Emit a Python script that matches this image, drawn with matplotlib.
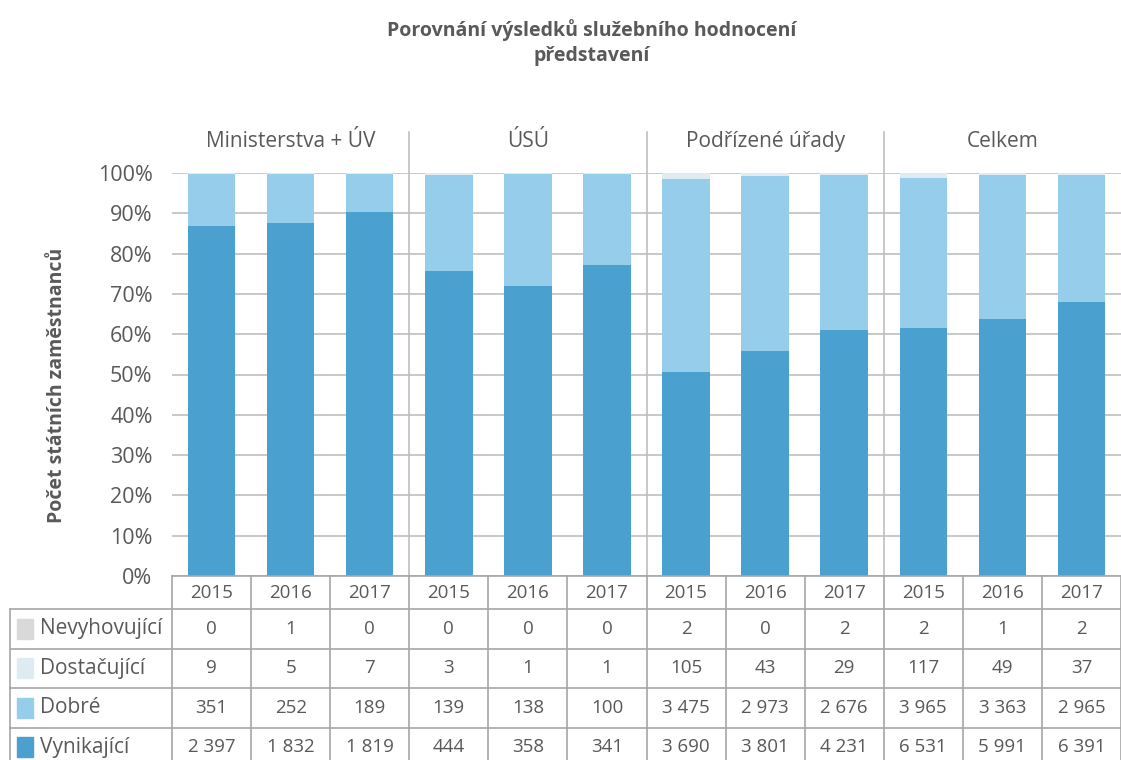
import numpy as np
import matplotlib
matplotlib.use("Agg")
import matplotlib.pyplot as plt

plt.rcParams["font.family"] = ["Open Sans", "DejaVu Sans"]

groups = ["Ministerstva + ÚV", "ÚSÚ", "Podřízené úřady", "Celkem"]
years = ["2015", "2016", "2017"]

series_names = ["Nevyhovující", "Dostačující", "Dobré", "Vynikající"]
nevyhovujici = [0, 1, 0, 0, 0, 0, 2, 0, 2, 2, 1, 2]
dostacujici = [9, 5, 7, 3, 1, 1, 105, 43, 29, 117, 49, 37]
dobre = [351, 252, 189, 139, 138, 100, 3475, 2973, 2676, 3965, 3363, 2965]
vynikajici = [2397, 1832, 1819, 444, 358, 341, 3690, 3801, 4231, 6531, 5991, 6391]

colors = {
    "Nevyhovující": "#d9d9d9",
    "Dostačující": "#deecf2",
    "Dobré": "#96cdeb",
    "Vynikající": "#4aa0cf",
}
text_color = "#595959"
grid_color = "#bfbfbf"
table_line = "#a6a6a6"

values = {
    "Nevyhovující": np.array(nevyhovujici, dtype=float),
    "Dostačující": np.array(dostacujici, dtype=float),
    "Dobré": np.array(dobre, dtype=float),
    "Vynikající": np.array(vynikajici, dtype=float),
}
totals = sum(values.values())

n = len(groups) * len(years)
x = np.arange(n)

fig = plt.figure(figsize=(11.21, 7.60), dpi=100)

W, H = 1121.0, 760.0
plot_left, plot_right = 172, 1121
plot_top, plot_bottom = 173, 576

ax = fig.add_axes([plot_left / W, 1 - plot_bottom / H,
                   (plot_right - plot_left) / W, (plot_bottom - plot_top) / H])

# stacked 100% bars, bottom to top
bottom = np.zeros(n)
for name in ["Vynikající", "Dobré", "Dostačující", "Nevyhovující"]:
    share = values[name] / totals
    ax.bar(x, share, 0.6, bottom=bottom, color=colors[name], zorder=3)
    bottom += share

ax.set_xlim(-0.5, n - 0.5)
ax.set_ylim(0, 1)
ax.set_yticks(np.arange(0, 1.01, 0.1))
ax.set_yticklabels([f"{int(round(v * 100))}%" for v in np.arange(0, 1.01, 0.1)])
ax.tick_params(axis="y", length=0, pad=14, labelsize=15.5, labelcolor=text_color)
ax.set_xticks([])
for s in ax.spines.values():
    s.set_visible(False)
ax.yaxis.grid(True, color=grid_color, linewidth=1.2, zorder=0)

# group separators and labels
for g in range(1, len(groups)):
    ax.plot([g * 3 - 0.5, g * 3 - 0.5], [0, 1.102], color=grid_color,
            linewidth=1.2, clip_on=False, zorder=1)
for g, name in enumerate(groups):
    ax.text(g * 3 + 1, 1.077, name, ha="center", va="center", fontsize=15,
            color=text_color, transform=ax.transData, clip_on=False)

ax.set_ylabel("Počet státních zaměstnanců", fontsize=14, fontweight="bold",
              color=text_color)
ax.yaxis.set_label_coords(-(plot_left - 67) / (plot_right - plot_left), 0.474)

fig.text(592 / W, 1 - 30 / H, "Porovnání výsledků služebního hodnocení",
         ha="center", va="center", fontsize=14, fontweight="bold", color=text_color)
fig.text(592 / W, 1 - 56 / H, "představení",
         ha="center", va="center", fontsize=14, fontweight="bold", color=text_color)

# data table below the chart
label_left = 10
col_w = (plot_right - plot_left) / n
xmin = -0.5 - (plot_left - label_left) / col_w
header_h = 33 / 39.5
tab_h_px = 33 + 4 * 39.5
tax = fig.add_axes([label_left / W, 1 - (plot_bottom + tab_h_px) / H,
                    (plot_right - label_left) / W, tab_h_px / H])
tax.set_xlim(xmin, n - 0.5)
tax.set_ylim(header_h + 4, 0)
tax.axis("off")

# horizontal lines
tax.plot([-0.5, n - 0.5], [0, 0], color=table_line, linewidth=1.2, clip_on=False)
for r in range(4):
    yy = header_h + r
    tax.plot([xmin, n - 0.5], [yy, yy], color=table_line, linewidth=1.2, clip_on=False)
# vertical lines
for c in range(n + 1):
    tax.plot([c - 0.5, c - 0.5], [0, header_h + 4], color=table_line,
             linewidth=1.2, clip_on=False)
tax.plot([xmin, xmin], [header_h, header_h + 4], color=table_line,
         linewidth=1.2, clip_on=False)

# header row
for i in range(n):
    tax.text(i, header_h / 2, years[i % 3], ha="center", va="center",
             fontsize=13.5, color=text_color)

# data rows
sq_w = 0.2
for r, name in enumerate(series_names):
    yc = header_h + r + 0.5
    tax.add_patch(plt.Rectangle((xmin + 0.09, yc - 0.25), sq_w, 0.5,
                                color=colors[name], clip_on=False))
    tax.text(xmin + 0.38, yc, name, ha="left", va="center", fontsize=15,
             color=text_color)
    for i in range(n):
        label = f"{int(values[name][i]):,}".replace(",", " ")
        tax.text(i, yc, label, ha="center", va="center", fontsize=13.5,
                 color=text_color)

fig.savefig("out.png", dpi=100)
